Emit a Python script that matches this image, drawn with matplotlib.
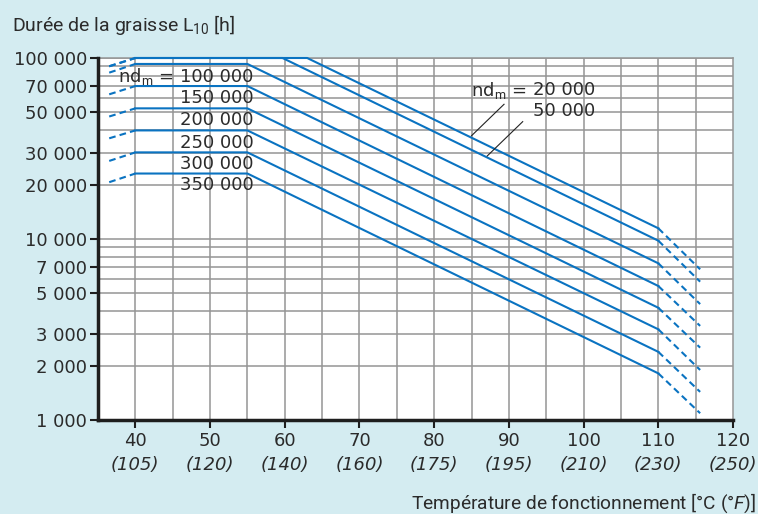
import matplotlib
matplotlib.use('Agg')
import matplotlib.pyplot as plt
import matplotlib.transforms as mtransforms
from matplotlib.ticker import FixedLocator, NullLocator

BG = '#d4ecf1'
BLUE = '#0a73c1'
TXT = '#2b2b2b'
GRID = '#959595'
SPINE = '#1e1e1e'

plt.rcParams['font.family'] = ['DejaVu Sans']
plt.rcParams['mathtext.fontset'] = 'custom'
plt.rcParams['mathtext.rm'] = 'Roboto'
plt.rcParams['mathtext.it'] = 'Roboto:italic'

# curves, one per nd_m value
nd_values = [20000, 50000, 100000, 150000, 200000, 250000, 300000, 350000]
left_life = [90000, 90000, 83000, 63000, 47500, 36000, 27000, 20600]   # dashed start at 36.5 degC
flat_life = [100000, 100000, 92700, 70000, 52700, 39800, 30100, 23000]
bend_temp = [63.0, 59.7, 55, 55, 55, 55, 55, 55]
knee_life = [11460, 9790, 7340, 5500, 4170, 3170, 2380, 1810]         # at 110 degC
end_life = [6800, 5810, 4370, 3310, 2510, 1890, 1430, 1090]            # at 115.6 degC
left_temp = 36.5
flat_temp = 40
knee_temp = 110
end_temp = 115.6

celsius_ticks = [40, 50, 60, 70, 80, 90, 100, 110, 120]
fahrenheit_labels = ['(105)', '(120)', '(140)', '(160)', '(175)', '(195)', '(210)', '(230)', '(250)']
y_ticks = [1000, 2000, 3000, 5000, 7000, 10000, 20000, 30000, 50000, 70000, 100000]
y_labels = ['1 000', '2 000', '3 000', '5 000', '7 000', '10 000', '20 000', '30 000',
            '50 000', '70 000', '100 000']

left_label_life = [78800, 59900, 45450, 34040, 25970, 19880]
left_label_text = ['100 000', '150 000', '200 000', '250 000', '300 000', '350 000']

fig = plt.figure(figsize=(7.58, 5.14), dpi=100, facecolor=BG)
ax = fig.add_axes([98 / 758, 1 - 420 / 514, 635 / 758, 362 / 514])
ax.set_facecolor('white')
ax.set_yscale('log')
ax.set_xlim(35, 120)
ax.set_ylim(1000, 100000)

# grid
for dec in [1000, 10000]:
    for k in range(2, 11):
        ax.axhline(k * dec, color=GRID, lw=1.1, zorder=1)
for t in range(40, 120, 5):
    ax.axvline(t, color=GRID, lw=1.1, zorder=1)

dash = (0, (3.2, 2))
for i in range(len(nd_values)):
    ax.plot([left_temp, flat_temp], [left_life[i], flat_life[i]], color=BLUE, lw=1.5,
            ls=dash, zorder=3, clip_on=False)
    ax.plot([flat_temp, bend_temp[i], knee_temp], [flat_life[i], flat_life[i], knee_life[i]],
            color=BLUE, lw=1.5, zorder=3, clip_on=False, solid_joinstyle='round')
    ax.plot([knee_temp, end_temp], [knee_life[i], end_life[i]], color=BLUE, lw=1.5,
            ls=dash, zorder=3, clip_on=False)

# labels on the left
ax.text(37.68, left_label_life[0], r'nd$_\mathrm{m}$ =', fontsize=13, color=TXT,
        va='center', ha='left', zorder=4)
for life, lab in zip(left_label_life, left_label_text):
    ax.text(46, life, lab, fontsize=13, color=TXT, va='center', ha='left', zorder=4)

# labels on the right with leader lines
ax.text(84.93, 66500, r'nd$_\mathrm{m}$ =', fontsize=13, color=TXT, va='center', ha='left', zorder=4)
ax.text(93.2, 66500, '20 000', fontsize=13, color=TXT, va='center', ha='left', zorder=4)
ax.text(93.2, 50900, '50 000', fontsize=13, color=TXT, va='center', ha='left', zorder=4)
ax.plot([89.35, 85.0], [55500, 37200], color='#222222', lw=0.8, zorder=4)
ax.plot([91.85, 87.1], [44500, 28750], color='#222222', lw=0.8, zorder=4)

# axes styling
for side in ['left', 'bottom']:
    ax.spines[side].set_color(SPINE)
    ax.spines[side].set_linewidth(2.5)
    ax.spines[side].set_zorder(5)
for side in ['top', 'right']:
    ax.spines[side].set_color(GRID)
    ax.spines[side].set_linewidth(1.1)

ax.yaxis.set_major_locator(FixedLocator(y_ticks))
ax.yaxis.set_minor_locator(NullLocator())
ax.set_yticklabels(y_labels)
ax.set_xticks(celsius_ticks)
ax.set_xticklabels([str(c) for c in celsius_ticks])
ax.tick_params(axis='both', length=6, width=1.5, color=SPINE, labelcolor=TXT, labelsize=13)
ax.tick_params(axis='y', pad=2)
ax.tick_params(axis='x', pad=3)

trans = mtransforms.blended_transform_factory(ax.transData, fig.transFigure)
for c, f in zip(celsius_ticks, fahrenheit_labels):
    ax.text(c, 1 - 465 / 514, f, transform=trans, fontsize=13, style='italic', color=TXT,
            ha='center', va='center', clip_on=False)

fig.text(12 / 758, 1 - 31 / 514, r'Durée de la graisse L$_{10}$ [h]', fontsize=14,
         family='Roboto', color=TXT, ha='left', va='baseline')
fig.text(756 / 758, 1 - 509 / 514, r'Température de fonctionnement [°C ($\mathit{°F}$)]',
         fontsize=13.8, family='Roboto', color=TXT, ha='right', va='baseline')

fig.savefig('out.png', dpi=100, facecolor=BG)
